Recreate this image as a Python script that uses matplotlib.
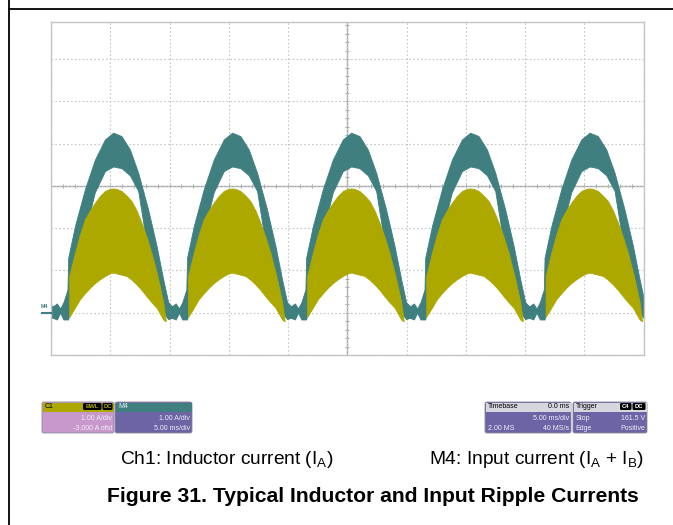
import numpy as np
import matplotlib
matplotlib.use("Agg")
import matplotlib.pyplot as plt
from matplotlib.patches import FancyBboxPatch, Rectangle

plt.rcParams['font.family'] = ['Liberation Sans', 'DejaVu Sans']
plt.rcParams['mathtext.fontset'] = 'custom'
plt.rcParams['mathtext.rm'] = 'Liberation Sans'
plt.rcParams['mathtext.it'] = 'Liberation Sans:italic'
plt.rcParams['mathtext.bf'] = 'Liberation Sans:bold'

# ---------------- data (time in ms, current in A) ----------------
peak_times_ms = [-19.75, -9.72, 0.33, 10.38, 20.45]

# M4 (input current) envelope, time relative to each peak
m4_t = [-5.30, -5.10, -4.75, -4.48, -4.20, -3.86, -3.80, -3.23, -2.39, -1.55,
        -0.70, 0.00, 0.70, 1.41, 2.11, 2.95, 3.66, 4.22, 4.64, 4.95]
m4_upper = [0.20, 0.15, 0.22, 0.10, 0.25, 0.55, 1.30, 2.05, 2.92, 3.62,
            4.10, 4.26, 4.18, 3.86, 3.31, 2.44, 1.58, 0.79, 0.25, 0.15]
m4_lower = [-0.12, -0.12, -0.16, 0.00, -0.16, -0.16, -0.16, 0.60, 1.90, 2.85,
            3.35, 3.46, 3.42, 3.25, 2.88, 1.40, 0.60, 0.00, -0.15, -0.12]

# Ch1 (inductor current) envelope, time relative to each peak
ch1_t = [-3.71, -3.23, -2.81, -2.39, -1.97, -1.55, -1.13, -0.70, -0.28, 0.00,
         0.28, 0.70, 1.13, 1.55, 1.97, 2.39, 2.81, 3.23, 3.66, 3.80, 4.22, 4.30, 4.44]
ch1_upper = [0.87, 1.42, 1.85, 2.21, 2.42, 2.60, 2.76, 2.88, 2.93, 2.94,
             2.93, 2.88, 2.77, 2.64, 2.42, 2.13, 1.80, 1.42, 0.95, 0.79, 0.25, 0.08, -0.20]
ch1_lower = [-0.10, 0.12, 0.32, 0.46, 0.59, 0.70, 0.79, 0.87, 0.93, 0.95,
             0.93, 0.90, 0.87, 0.78, 0.67, 0.54, 0.39, 0.25, 0.12, 0.05, -0.16, -0.18, -0.20]

c1_box = ["C1", "1.00 A/div", "-3.000 A ofst"]
m4_box = ["M4", "1.00 A/div", "5.00 ms/div"]
tb_box = ["Timebase", "0.0 ms", "5.00 ms/div", "2.00 MS", "40 MS/s"]
trig_box = ["Trigger", "Stop", "161.5 V", "Edge", "Positive"]

caption_ch1 = r"Ch1: Inductor current (I$_{\mathrm{A}}$)"
caption_m4 = r"M4: Input current (I$_{\mathrm{A}}$ + I$_{\mathrm{B}}$)"
title = "Figure 31. Typical Inductor and Input Ripple Currents"

TEAL = "#3f7f80"
YELLOW = "#aca800"

# ---------------- figure ----------------
W, H = 673, 525
fig = plt.figure(figsize=(W / 100, H / 100), dpi=100)
fig.patch.set_facecolor("white")

# scope screen
L, R, T, B = 51, 643.5, 21.5, 355
ax = fig.add_axes([L / W, 1 - B / H, (R - L) / W, (B - T) / H])
ax.set_xlim(-25, 25)
ax.set_ylim(-1.0, 6.89)
ax.set_xticks(np.arange(-25, 26, 5))
ax.set_yticks(np.arange(-1, 7, 1))
ax.tick_params(length=0, labelbottom=False, labelleft=False)
ax.grid(True, color="#c6c6c6", lw=0.8, ls=(0, (1.5, 2.0)), zorder=0)
for s in ax.spines.values():
    s.set_color("#c4c4c4")
    s.set_linewidth(1.0)
ax.axvline(0, color="#a8a8a8", lw=1.0, zorder=0.5)
ax.axhline(3, color="#a8a8a8", lw=1.0, zorder=0.5)
xt = np.arange(-25, 25.01, 1.0)
ax.plot(xt, np.full_like(xt, 3.0), ls="none", marker="|", ms=3.5, mew=0.7,
        color="#a8a8a8", zorder=0.6)
yt = np.arange(-1.0, 6.9, 0.2)
ax.plot(np.zeros_like(yt), yt, ls="none", marker="_", ms=3.5, mew=0.7,
        color="#a8a8a8", zorder=0.6)

for pk in peak_times_ms:
    t = np.array(m4_t) + pk
    ax.fill_between(t, m4_lower, m4_upper, color=TEAL, lw=0.6, edgecolor=TEAL, zorder=2)
for pk in peak_times_ms:
    t = np.array(ch1_t) + pk
    ax.fill_between(t, ch1_lower, ch1_upper, color=YELLOW, lw=0.6, edgecolor=YELLOW, zorder=3)

# ---------------- overlay in pixel coords ----------------
ov = fig.add_axes([0, 0, 1, 1], zorder=5)
ov.set_xlim(0, W)
ov.set_ylim(H, 0)
ov.axis("off")
ov.patch.set_alpha(0)

# page frame
ov.plot([8.5, 8.5], [0, H], color="black", lw=1.3)
ov.plot([8.5, W], [9, 9], color="black", lw=1.3)

# M4 ground marker
ov.plot([42, 51], [312.5, 312.5], color=TEAL, lw=1.5)
ov.text(44, 307, "M4", fontsize=3.8, color=TEAL, ha="center", va="center",
        fontweight="bold")

FS = 5.0


def box(x0, x1, y0, y1, hy, head_col, body_col):
    ov.add_patch(FancyBboxPatch((x0, y0), x1 - x0, y1 - y0,
                                boxstyle="round,pad=0,rounding_size=2",
                                fc=body_col, ec="#8a8a9a", lw=0.6))
    ov.add_patch(Rectangle((x0 + 0.5, y0 + 0.5), x1 - x0 - 1, hy - y0,
                           fc=head_col, ec="none"))


def badge(x0, x1, y0, y1, txt, col):
    ov.add_patch(FancyBboxPatch((x0, y0), x1 - x0, y1 - y0,
                                boxstyle="round,pad=0,rounding_size=1.5",
                                fc="black", ec="none"))
    ov.text((x0 + x1) / 2, (y0 + y1) / 2 + 0.3, txt, fontsize=4.2, color=col,
            ha="center", va="center", fontweight="bold")


y0, y1, hy = 402, 433, 411
r1, r2, rh = 418, 428, 406.5
BODY_TXT = "#f0eef8"

# C1
box(42, 114, y0, y1, hy, YELLOW, "#c898cc")
ov.text(45, rh, c1_box[0], fontsize=FS, color="black", va="center")
badge(83, 101.5, 403, 410, "BWL", YELLOW)
badge(102.5, 112.5, 403, 410, "DC", YELLOW)
ov.text(112, r1, c1_box[1], fontsize=FS, color=BODY_TXT, ha="right", va="center")
ov.text(112, r2, c1_box[2], fontsize=FS, color=BODY_TXT, ha="right", va="center")

# M4
box(115, 192, y0, y1, hy, TEAL, "#6c64a4")
ov.text(118, rh, m4_box[0], fontsize=FS, color="#e8f0f0", va="center")
ov.text(190, r1, m4_box[1], fontsize=FS, color=BODY_TXT, ha="right", va="center")
ov.text(190, r2, m4_box[2], fontsize=FS, color=BODY_TXT, ha="right", va="center")

# Timebase
box(485, 571, y0, y1, hy, "#d6d6de", "#6c64a4")
ov.text(487.5, rh, tb_box[0], fontsize=FS, color="black", va="center")
ov.text(569, rh, tb_box[1], fontsize=FS, color="black", ha="right", va="center")
ov.text(569, r1, tb_box[2], fontsize=FS, color=BODY_TXT, ha="right", va="center")
ov.text(487.5, r2, tb_box[3], fontsize=FS, color=BODY_TXT, va="center")
ov.text(569, r2, tb_box[4], fontsize=FS, color=BODY_TXT, ha="right", va="center")

# Trigger
box(573, 647, y0, y1, hy, "#d6d6de", "#6c64a4")
ov.text(575.5, rh, trig_box[0], fontsize=FS, color="black", va="center")
badge(620, 631.5, 403, 410, "C4", "white")
badge(632.5, 645.5, 403, 410, "DC", "white")
ov.text(575.5, r1, trig_box[1], fontsize=FS, color=BODY_TXT, va="center")
ov.text(645, r1, trig_box[2], fontsize=FS, color=BODY_TXT, ha="right", va="center")
ov.text(575.5, r2, trig_box[3], fontsize=FS, color=BODY_TXT, va="center")
ov.text(645, r2, trig_box[4], fontsize=FS, color=BODY_TXT, ha="right", va="center")

# captions
ov.text(120, 459, caption_ch1, fontsize=13.8, color="black", ha="left", va="center")
ov.text(644, 459, caption_m4, fontsize=13.8, color="black", ha="right", va="center")
ov.text(372.5, 496, title, fontsize=15.2, fontweight="bold", color="black",
        ha="center", va="center")

fig.savefig("out.png", dpi=100, facecolor="white")
